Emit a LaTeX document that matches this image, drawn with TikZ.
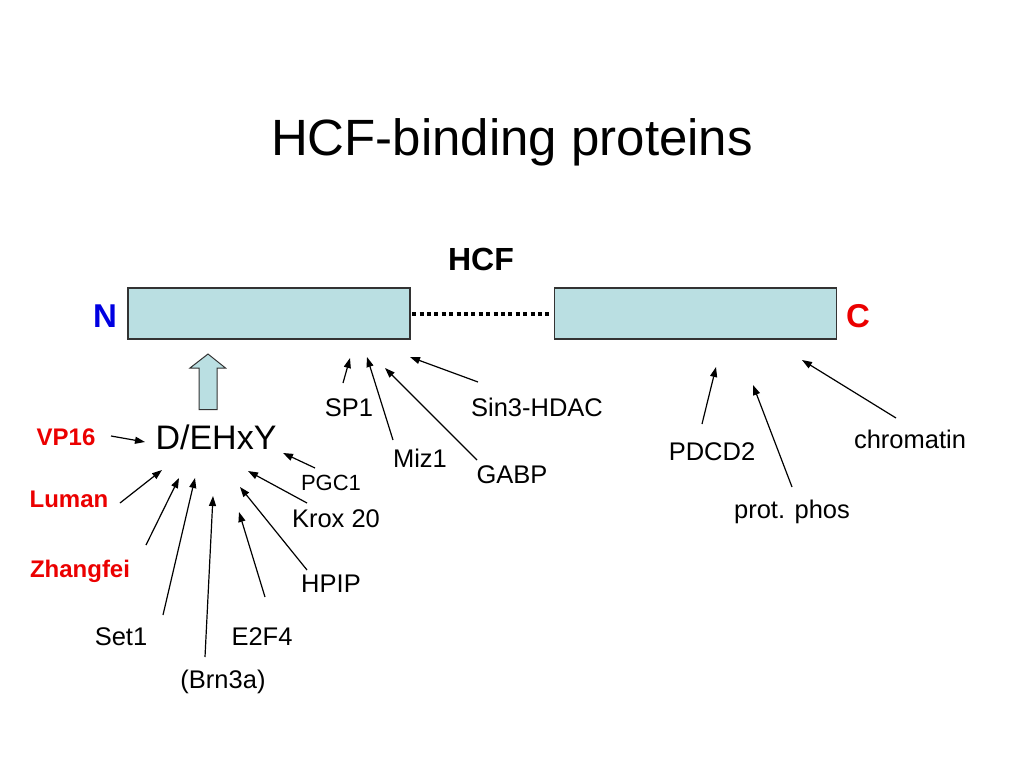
\documentclass[tikz,border=0pt]{standalone}
\usepackage{fontspec}
\setmainfont{Liberation Sans}
\usetikzlibrary{arrows.meta}

\definecolor{hcfblue}{RGB}{186,223,226}
\definecolor{endred}{RGB}{235,0,0}
\definecolor{endblue}{RGB}{0,0,225}

\tikzset{
  lbl/.style={anchor=base,inner sep=0pt,font=\fontsize{25.5}{30}\selectfont},
  redlbl/.style={lbl,text=endred,font=\fontsize{24}{28}\selectfont\bfseries},
  hcfpart/.style={draw=black!80,line width=1.2pt,fill=hcfblue,minimum width=282,minimum height=51,inner sep=0pt},
  bind/.style={-{Triangle[length=10,width=7]},line width=1.2pt}
}

\begin{document}
\begin{tikzpicture}[x=1pt,y=-1pt]
    \useasboundingbox (0,0) rectangle (1024,768);

    % title
    \node [anchor=base,inner sep=0pt,font=\fontsize{51}{60}\selectfont] (title) at (512,155) {HCF-binding proteins};

    % the protein
    \node [anchor=base,inner sep=0pt,font=\fontsize{32}{38}\selectfont\bfseries] (hcf) at (481,270) {HCF};
    \node [hcfpart] (nterm) at (269,313.5) {};
    \node [hcfpart] (cterm) at (695.5,313.5) {};
    \draw [line width=4pt,dash pattern=on 4pt off 3.4pt] ([xshift=1.5]nterm.east) -- ([xshift=-4]cterm.west);
    \node [anchor=base,inner sep=0pt,text=endblue,font=\fontsize{33}{38}\selectfont\bfseries] (nlbl) at (105,327) {N};
    \node [anchor=base,inner sep=0pt,text=endred,font=\fontsize{33}{38}\selectfont\bfseries] (clbl) at (858,327) {C};

    % motif and block arrow
    \draw [draw=black!80,line width=1pt,fill=hcfblue]
        (199,409.5) -- (199,368) -- (190,368) -- (208,354) -- (225.5,368) -- (217,368) -- (217,409.5) -- cycle;
    \node [anchor=base,inner sep=0pt,font=\fontsize{34}{40}\selectfont] (motif) at (216,449) {D/EHxY};

    % motif binders
    \node [redlbl] (vp16) at (66,445) {VP16};
    \node [redlbl] (luman) at (69,507) {Luman};
    \node [redlbl] (zhangfei) at (80,577) {Zhangfei};
    \node [lbl] (set1) at (121,645) {Set1};
    \node [lbl] (brn3a) at (223,688) {(Brn3a)};
    \node [lbl] (e2f4) at (262,645) {E2F4};
    \node [lbl] (hpip) at (331,592) {HPIP};
    \node [lbl] (krox) at (336,527) {Krox 20};
    \node [lbl,font=\fontsize{22}{26}\selectfont] (pgc1) at (331,490) {PGC1};

    % N-terminal binders
    \node [lbl] (sp1) at (349,416) {SP1};
    \node [lbl] (miz1) at (420,467) {Miz1};
    \node [lbl] (gabp) at (512,483) {GABP};
    \node [lbl] (sin3) at (537,416) {Sin3-HDAC};

    % C-terminal binders
    \node [lbl] (pdcd2) at (712,460) {PDCD2};
    \node [lbl] (phos) at (792,518) {prot. phos};
    \node [lbl] (chrom) at (910,448) {chromatin};

    % arrow ends
    \coordinate (vp16a) at (111,436);  \coordinate (vp16b) at (145,442);
    \coordinate (lumana) at (120,503); \coordinate (lumanb) at (162,470);
    \coordinate (zhanga) at (146,545); \coordinate (zhangb) at (179,478);
    \coordinate (set1a) at (163,615);  \coordinate (set1b) at (195,478);
    \coordinate (brn3aa) at (205,657); \coordinate (brn3ab) at (213,496);
    \coordinate (e2f4a) at (265,597);  \coordinate (e2f4b) at (239,512);
    \coordinate (hpipa) at (307,570);  \coordinate (hpipb) at (240,487);
    \coordinate (kroxa) at (307,503);  \coordinate (kroxb) at (248,471);
    \coordinate (pgc1a) at (315,468);  \coordinate (pgc1b) at (283,453);
    \coordinate (sp1a) at (343,383);   \coordinate (sp1b) at (350,358);
    \coordinate (miz1a) at (393,440);  \coordinate (miz1b) at (367,357);
    \coordinate (gabpa) at (477,460);  \coordinate (gabpb) at (385,368);
    \coordinate (sin3a) at (478,382);  \coordinate (sin3b) at (410,357);
    \coordinate (pdcd2a) at (702,424); \coordinate (pdcd2b) at (716,367);
    \coordinate (phosa) at (792,487);  \coordinate (phosb) at (753,385);
    \coordinate (chroma) at (896,418); \coordinate (chromb) at (802,360);

    \foreach \p in {vp16,luman,zhang,set1,brn3a,e2f4,hpip,krox,pgc1,sp1,miz1,gabp,sin3,pdcd2,phos,chrom}
        \draw [bind] (\p a) -- (\p b);
\end{tikzpicture}
\end{document}
